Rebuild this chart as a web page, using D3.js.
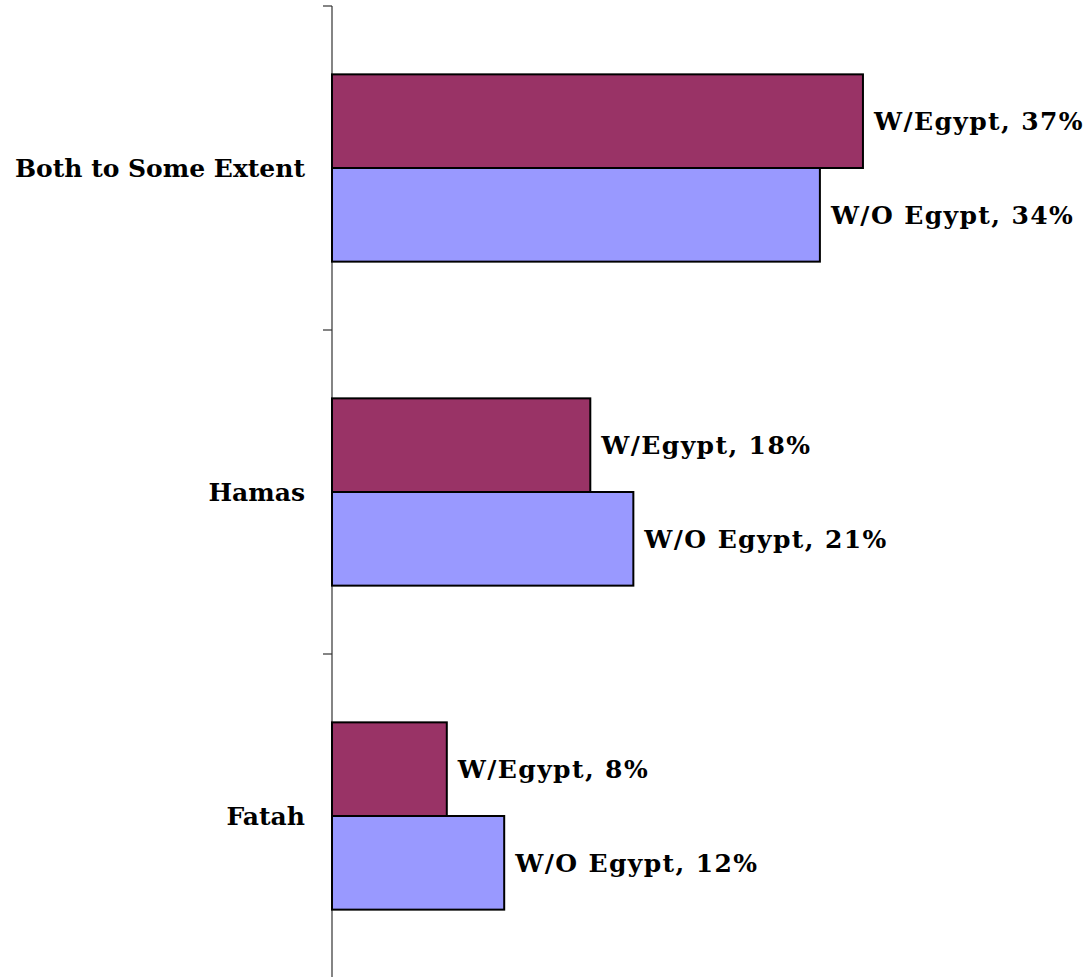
<!DOCTYPE html>
<html><head><meta charset="utf-8">
<script src="https://cdn.jsdelivr.net/npm/d3@7"></script>
<style>body{margin:0;background:#fff}svg{display:block}</style>
</head><body>
<svg id="c" width="1091" height="977"></svg>
<script>
const categories = ["Both to Some Extent", "Hamas", "Fatah"];
const seriesNames = ["W/Egypt", "W/O Egypt"];
const withEgypt = [37, 18, 8];
const withoutEgypt = [34, 21, 12];
const seriesColors = ["#993366", "#9999FF"];

const svg = d3.select("#c");
const W = 1091, H = 977;
const axisX = 332;
const y = d3.scaleBand().domain(categories).range([6, 978]).padding(0);
const ys = d3.scaleBand().domain(seriesNames).range([0, y.bandwidth()]).paddingInner(0).paddingOuter(0.73);
const x = d3.scaleLinear().domain([0, 40]).range([axisX, axisX + 14.35 * 40]);

const data = [];
categories.forEach((c, i) => {
  data.push({cat: c, s: seriesNames[0], v: withEgypt[i], color: seriesColors[0]});
  data.push({cat: c, s: seriesNames[1], v: withoutEgypt[i], color: seriesColors[1]});
});

const font = "'DejaVu Serif', serif";

// axis
const ax = svg.append("g").attr("transform", `translate(${axisX},0)`)
  .call(d3.axisLeft(y).tickSize(0).tickFormat(""));
ax.select(".domain").attr("stroke", "#333").attr("stroke-width", 1.2).attr("d", `M0,${y.range()[0]}V${H}`);
const boundaries = categories.map(c => y(c));
ax.selectAll(".bt").data(boundaries).enter().append("line")
  .attr("x1", -9).attr("x2", 0).attr("y1", d => d).attr("y2", d => d)
  .attr("stroke", "#333").attr("stroke-width", 1.2);

// bars
svg.append("g").selectAll("rect").data(data).enter().append("rect")
  .attr("x", x(0))
  .attr("y", d => y(d.cat) + ys(d.s))
  .attr("width", d => x(d.v) - x(0))
  .attr("height", ys.bandwidth())
  .attr("fill", d => d.color)
  .attr("stroke", "#000").attr("stroke-width", 2);

// value labels
svg.append("g").selectAll("text").data(data).enter().append("text")
  .attr("x", d => x(d.v) + 11)
  .attr("y", d => y(d.cat) + ys(d.s) + ys.bandwidth() / 2)
  .attr("dy", "0.35em")
  .attr("font-family", font).attr("font-weight", "bold").attr("font-size", 25)
  .attr("letter-spacing", 1.4)
  .attr("fill", "#000")
  .text(d => `${d.s}, ${d.v}%`);

// category labels
svg.append("g").selectAll("text").data(categories).enter().append("text")
  .attr("x", 305)
  .attr("y", c => y(c) + ys("W/O Egypt"))
  .attr("dy", "0.35em")
  .attr("text-anchor", "end")
  .attr("font-family", font).attr("font-weight", "bold").attr("font-size", 25)
  .attr("fill", "#000")
  .text(c => c);
</script>
</body></html>
